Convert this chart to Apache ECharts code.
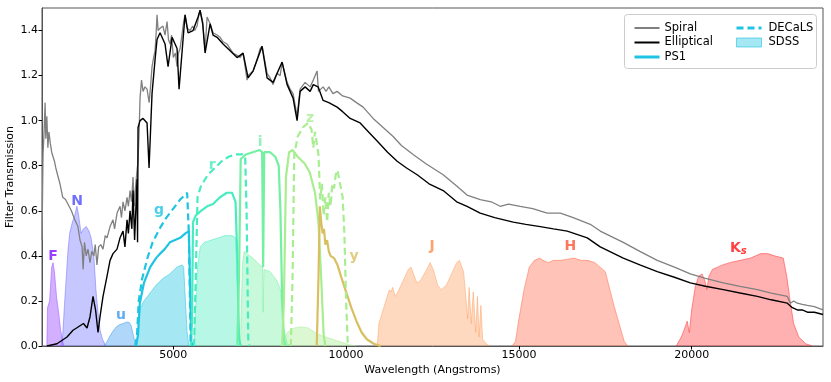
<!DOCTYPE html>
<html>
<head>
<meta charset="utf-8">
<script src="https://cdn.jsdelivr.net/npm/echarts@6/dist/echarts.min.js"></script>
<style>
  html, body { margin: 0; background: #fff; }
  #main { width: 831px; height: 382px; }
</style>
</head>
<body>
<div id="main"></div>
<script>
// galaxy template spectra, [wavelength, flux]
const spiralData = [
  [1200,0.47],[1230,0.85],[1260,0.95],[1290,1.08],[1310,0.92],[1340,1.02],[1370,0.88],[1400,0.95],[1440,0.90],
  [1480,0.86],[1520,0.84],[1560,0.82],[1600,0.79],[1650,0.76],[1720,0.72],[1800,0.66],[1880,0.65],[1950,0.63],
  [2050,0.60],[2150,0.56],[2240,0.53],[2300,0.47],[2360,0.44],[2390,0.34],[2430,0.46],[2480,0.40],[2530,0.43],
  [2590,0.37],[2640,0.42],[2700,0.40],[2740,0.45],[2790,0.36],[2840,0.44],[2900,0.45],[2966,0.43],[3030,0.49],
  [3082,0.48],[3169,0.53],[3255,0.56],[3300,0.52],[3371,0.59],[3458,0.62],[3500,0.57],[3545,0.64],[3600,0.60],
  [3661,0.66],[3700,0.62],[3748,0.69],[3790,0.64],[3834,0.75],[3870,0.62],[3910,0.71],[3950,0.78],[3979,0.82],
  [4010,0.95],[4037,1.10],[4080,1.18],[4124,1.13],[4180,1.15],[4240,1.14],[4300,1.08],[4340,1.15],[4384,1.24],
  [4430,1.28],[4471,1.31],[4500,1.38],[4529,1.47],[4560,1.40],[4616,1.41],[4700,1.42],[4760,1.38],[4819,1.44],
  [4860,1.36],[4906,1.34],[4950,1.38],[5000,1.28],[5060,1.30],[5108,1.24],[5150,1.30],[5195,1.32],[5250,1.38],
  [5300,1.44],[5340,1.47],[5400,1.41],[5485,1.40],[5560,1.42],[5620,1.40],[5687,1.42],[5740,1.47],[5774,1.49],
  [5850,1.44],[5919,1.31],[5977,1.46],[6064,1.43],[6150,1.39],[6266,1.38],[6353,1.37],[6440,1.35],[6556,1.34],
  [6643,1.32],[6729,1.30],[6845,1.29],[6932,1.28],[7019,1.30],[7135,1.18],[7164,1.20],[7308,1.22],[7420,1.27],
  [7511,1.32],[7569,1.33],[7714,1.21],[7800,1.19],[7887,1.16],[8000,1.21],[8092,1.20],[8148,1.26],[8293,1.17],
  [8380,1.14],[8466,1.12],[8582,1.02],[8669,1.14],[8814,1.17],[8959,1.15],[9050,1.18],[9161,1.22],[9200,1.13],
  [9335,1.15],[9420,1.13],[9500,1.15],[9620,1.12],[9740,1.13],[9900,1.11],[10117,1.10],[10300,1.08],[10493,1.06],
  [10782,1.01],[11000,0.98],[11361,0.93],[11600,0.89],[11940,0.85],[12300,0.81],[12809,0.76],[13200,0.71],
  [13500,0.67],[13880,0.65],[14200,0.64],[14459,0.62],[14700,0.63],[15038,0.62],[15400,0.61],[15820,0.59],
  [16200,0.59],[16572,0.57],[17065,0.54],[17354,0.51],[18020,0.46],[18500,0.42],[19004,0.38],[19500,0.35],
  [19960,0.32],[20400,0.30],[20915,0.28],[21400,0.265],[21899,0.25],[22300,0.235],[22768,0.22],[22855,0.19],
  [22950,0.20],[23057,0.19],[23200,0.185],[23349,0.18],[23550,0.175],[23800,0.16]
];
const ellipticalData = [
  [1345,0.0],[1634,0.01],[1924,0.04],[2097,0.07],[2200,0.08],[2300,0.09],[2400,0.10],[2503,0.08],[2590,0.13],
  [2676,0.22],[2750,0.16],[2821,0.06],[2879,0.13],[2966,0.22],[3082,0.31],[3169,0.38],[3255,0.41],[3371,0.43],
  [3458,0.48],[3545,0.51],[3600,0.44],[3661,0.56],[3700,0.50],[3748,0.60],[3800,0.52],[3834,0.69],[3880,0.47],
  [3950,0.74],[3965,0.46],[3979,0.97],[4037,1.00],[4124,1.01],[4240,0.99],[4298,0.79],[4384,1.12],[4471,1.27],
  [4529,1.36],[4616,1.39],[4761,1.34],[4848,1.24],[4964,1.37],[5108,1.32],[5166,1.14],[5282,1.36],[5340,1.47],
  [5427,1.39],[5571,1.40],[5716,1.46],[5774,1.49],[5850,1.43],[5919,1.30],[6064,1.43],[6150,1.38],[6266,1.37],
  [6440,1.34],[6643,1.31],[6845,1.28],[7019,1.30],[7164,1.19],[7308,1.22],[7569,1.33],[7714,1.19],[7887,1.17],
  [8148,1.26],[8293,1.16],[8466,1.10],[8582,1.00],[8669,1.13],[8814,1.15],[8959,1.13],[9050,1.16],[9190,1.15],
  [9335,1.09],[9500,1.08],[9740,1.06],[9900,1.04],[10117,1.01],[10406,0.99],[10650,0.95],[10898,0.91],
  [11200,0.86],[11477,0.82],[11750,0.79],[12056,0.76],[12400,0.72],[12809,0.69],[13200,0.64],[13500,0.62],
  [13880,0.59],[14300,0.57],[14835,0.55],[15200,0.54],[15617,0.53],[16000,0.52],[16399,0.51],[16978,0.48],
  [17354,0.44],[18020,0.39],[18500,0.36],[19004,0.33],[19500,0.305],[19960,0.28],[20400,0.265],[20915,0.25],
  [21400,0.235],[21899,0.22],[22300,0.205],[22768,0.19],[22913,0.17],[23057,0.16],[23200,0.16],[23349,0.15],
  [23550,0.15],[23800,0.14]
];

// GALEX
const galexF = [[1340,0],[1360,0.17],[1420,0.20],[1480,0.35],[1520,0.37],[1560,0.33],[1620,0.22],[1680,0.15],[1740,0.07],[1800,0.02],[1830,0]];
const galexN = [[1750,0],[1800,0.05],[1850,0.18],[1900,0.30],[1950,0.42],[2000,0.50],[2080,0.55],[2150,0.58],[2210,0.62],[2260,0.58],
  [2330,0.50],[2400,0.52],[2480,0.53],[2560,0.51],[2620,0.48],[2700,0.40],[2760,0.25],[2820,0.15],[2880,0.07],[2950,0.03],[3050,0]];

// SDSS
const sdssU = [[2970,0],[3050,0.01],[3150,0.04],[3250,0.065],[3350,0.085],[3450,0.095],[3550,0.10],[3650,0.106],[3720,0.105],[3780,0.09],[3840,0.05],[3900,0.01],[3950,0]];
const sdssG = [[3900,0],[3950,0.01],[4000,0.12],[4050,0.17],[4150,0.20],[4300,0.23],[4500,0.27],[4700,0.30],[4900,0.32],[5100,0.35],[5250,0.36],[5300,0.35],[5350,0.2],[5400,0.06],[5450,0]];
const sdssR = [[5500,0],[5600,0.02],[5700,0.35],[5780,0.44],[5900,0.46],[6100,0.47],[6300,0.48],[6500,0.49],[6700,0.49],[6800,0.48],[6850,0.3],[6900,0.08],[6950,0]];
const sdssI = [[6900,0],[6950,0.05],[7000,0.36],[7050,0.42],[7100,0.42],[7300,0.39],[7500,0.36],[7580,0.35],[7600,0.15],[7620,0.34],[7800,0.33],[8000,0.29],[8100,0.25],[8200,0.08],[8300,0.01],[8400,0]];
const sdssZ = [[8100,0],[8200,0.02],[8300,0.06],[8500,0.08],[8700,0.085],[8900,0.08],[9100,0.06],[9300,0.045],[9500,0.035],[9700,0.025],[9900,0.015],[10100,0.005],[10300,0]];

// Pan-STARRS1
const ps1G = [[3920,0],[3980,0.05],[4030,0.19],[4150,0.28],[4330,0.35],[4500,0.39],[4620,0.41],[4750,0.43],[4900,0.46],[5050,0.47],[5200,0.48],[5350,0.50],[5450,0.51],[5480,0.3],[5520,0.02],[5560,0]];
const ps1R = [[5500,0],[5540,0.1],[5570,0.55],[5650,0.58],[5800,0.60],[5980,0.62],[6150,0.63],[6350,0.66],[6550,0.68],[6700,0.68],[6800,0.64],[6850,0.4],[6900,0.03],[6950,0]];
const ps1I = [[6850,0],[6900,0.3],[6950,0.83],[7100,0.85],[7300,0.86],[7500,0.87],[7570,0.86],[7600,0.35],[7630,0.86],[7800,0.86],[7950,0.84],[8050,0.80],[8100,0.6],[8150,0.2],[8200,0.03],[8250,0]];
const ps1Z = [[8150,0],[8200,0.2],[8260,0.75],[8350,0.86],[8450,0.87],[8600,0.84],[8800,0.81],[8950,0.77],[9100,0.68],[9200,0.55],[9280,0.3],[9350,0.05],[9400,0]];
const ps1Y = [[9150,0],[9200,0.3],[9240,0.62],[9280,0.55],[9320,0.50],[9360,0.52],[9400,0.45],[9450,0.47],[9500,0.42],[9550,0.40],[9650,0.39],[9750,0.36],[9850,0.31],[10000,0.24],[10150,0.17],[10300,0.11],[10450,0.06],[10600,0.03],[10800,0.01],[11000,0]];

// DECaLS
const decalsG = [[3900,0],[3950,0.05],[4000,0.2],[4100,0.30],[4250,0.39],[4400,0.46],[4600,0.52],[4800,0.57],[5000,0.61],[5200,0.65],[5400,0.68],[5450,0.5],[5500,0.02],[5530,0]];
const decalsR = [[5600,0],[5650,0.3],[5700,0.66],[5800,0.71],[6000,0.76],[6200,0.79],[6400,0.82],[6600,0.84],[6800,0.85],[7000,0.85],[7080,0.84],[7120,0.6],[7170,0.02],[7200,0]];
const decalsZ = [[8400,0],[8450,0.3],[8500,0.85],[8600,0.93],[8750,0.97],[8900,0.99],[9000,0.96],[9050,0.88],[9100,0.95],[9150,0.90],[9200,0.85],[9250,0.65],[9300,0.72],
  [9350,0.58],[9400,0.66],[9450,0.55],[9500,0.68],[9550,0.62],[9600,0.72],[9650,0.70],[9700,0.76],[9750,0.78],[9800,0.74],[9850,0.70],[9900,0.66],[9950,0.50],[10000,0.2],[10050,0]];

// 2MASS
const tmassJ = [[10900,0],[10950,0.10],[11050,0.15],[11150,0.20],[11250,0.25],[11300,0.24],[11350,0.26],[11420,0.22],[11500,0.24],[11650,0.29],[11800,0.34],[11880,0.35],[11950,0.32],
  [12050,0.28],[12150,0.29],[12300,0.33],[12430,0.37],[12520,0.34],[12650,0.27],[12750,0.25],[12900,0.27],[13050,0.32],[13200,0.37],[13280,0.38],[13400,0.33],[13450,0.24],
  [13520,0.12],[13560,0.26],[13620,0.10],[13680,0.24],[13750,0.06],[13800,0.22],[13850,0.04],[13900,0.18],[13950,0.03],[14050,0.01],[14150,0]];
const tmassH = [[14800,0],[14900,0.02],[15000,0.12],[15150,0.25],[15300,0.35],[15450,0.38],[15600,0.39],[15700,0.38],[15850,0.37],[16000,0.38],[16200,0.38],[16400,0.385],
  [16600,0.39],[16800,0.38],[17000,0.38],[17200,0.37],[17350,0.35],[17500,0.33],[17600,0.27],[17750,0.18],[17900,0.10],[18050,0.02],[18150,0]];
const tmassKs = [[19550,0],[19700,0.04],[19800,0.08],[19870,0.11],[19930,0.06],[20000,0.16],[20100,0.26],[20200,0.31],[20300,0.32],[20380,0.29],[20440,0.25],[20500,0.31],
  [20600,0.34],[20750,0.35],[20900,0.36],[21100,0.37],[21400,0.38],[21700,0.39],[21850,0.40],[22000,0.41],[22200,0.41],[22400,0.40],[22650,0.39],[22750,0.31],[22850,0.20],
  [22950,0.10],[23100,0.04],[23300,0.01],[23500,0]];

// band name labels [wavelength, height, text, colour]
const bandLabels = [
  [1518, 0.40, 'F', '#8010ff'],
  [2213, 0.64, 'N', '#4c4cff'],
  [3487, 0.135, 'u', '#3a98f0'],
  [4587, 0.60, 'g', '#1ec4e2'],
  [6122, 0.80, 'r', '#48ecc0'],
  [7511, 0.905, 'i', '#74f0a2'],
  [8959, 1.01, 'z', '#a8ee90'],
  [10232, 0.40, 'y', '#d8c060'],
  [12490, 0.44, 'J', '#ff8c48'],
  [16486, 0.44, 'H', '#ff5533'],
  [21349, 0.435, 'Ks', '#ff1010']
];

const xTicks = [5000, 10000, 15000, 20000];
const yTicks = [0, 0.2, 0.4, 0.6, 0.8, 1.0, 1.2, 1.4];

const FONT = 'DejaVu Sans';

function fillBand(name, data, color, alpha) {
  return {
    name: name, type: 'line', data: data, symbol: 'none', silent: true, z: 1,
    color: color,
    lineStyle: { color: color, width: 1, opacity: 0.5 },
    areaStyle: { color: color, opacity: alpha },
  };
}
function lineBand(name, data, color, dashed) {
  return {
    name: name, type: 'line', data: data, symbol: 'none', silent: true, z: 3,
    color: color,
    lineStyle: { color: color, width: 2.2, type: dashed ? [7, 4] : 'solid' },
  };
}

const cG = '#1ec4e2', cR = '#48ecc0', cI = '#74f0a2', cZ = '#a8ee90';

const series = [
  fillBand('GALEX F', galexF, '#9b4dff', 0.45),
  fillBand('GALEX N', galexN, '#6b6bff', 0.38),
  fillBand('SDSS u', sdssU, '#3a98f0', 0.4),
  fillBand('SDSS', sdssG, cG, 0.4),
  fillBand('SDSS r', sdssR, cR, 0.4),
  fillBand('SDSS i', sdssI, cI, 0.4),
  fillBand('SDSS z', sdssZ, cZ, 0.4),
  fillBand('2MASS J', tmassJ, '#ffa060', 0.4),
  fillBand('2MASS H', tmassH, '#ff6a4a', 0.4),
  fillBand('2MASS Ks', tmassKs, '#ff3030', 0.38),
  lineBand('PS1', ps1G, cG, false),
  lineBand('PS1 r', ps1R, cR, false),
  lineBand('PS1 i', ps1I, cI, false),
  lineBand('PS1 z', ps1Z, cZ, false),
  lineBand('PS1 y', ps1Y, '#d8c060', false),
  lineBand('DECaLS', decalsG, cG, true),
  lineBand('DECaLS r', decalsR, cR, true),
  lineBand('DECaLS z', decalsZ, cZ, true),
  {
    name: 'Spiral', type: 'line', data: spiralData, symbol: 'none', z: 5, silent: true,
    color: '#808080', lineStyle: { color: '#808080', width: 1.3 }
  },
  {
    name: 'Elliptical', type: 'line', data: ellipticalData, symbol: 'none', z: 6, silent: true,
    color: '#000', lineStyle: { color: '#000', width: 1.4 }
  },
  {
    name: 'labels', type: 'scatter', symbolSize: 1, z: 7, silent: true,
    itemStyle: { color: 'rgba(0,0,0,0)' },
    data: bandLabels.map(b => ({
      value: [b[0], b[1]],
      label: {
        show: true, position: 'inside', color: b[3],
        formatter: b[2] === 'Ks' ? '{k|K}{s|s}' : b[2],
        rich: {
          k: { color: b[3], fontSize: 14, fontWeight: 'bold', fontFamily: FONT },
          s: { color: b[3], fontSize: 10, fontStyle: 'italic', fontFamily: FONT, padding: [7, 0, 0, 0] }
        }
      }
    })),
    label: { show: true, fontSize: 14, fontWeight: 'bold', fontFamily: FONT }
  }
];

const chart = echarts.init(document.getElementById('main'));
chart.setOption({
  animation: false,
  backgroundColor: '#fff',
  grid: { left: 42, right: 8, top: 8, bottom: 36, show: true, borderColor: '#555', borderWidth: 1,
    outerBoundsMode: 'none', containLabel: false },
  xAxis: {
    type: 'value', min: 1200, max: 23800,
    name: 'Wavelength (Angstroms)', nameLocation: 'middle', nameGap: 19, nameMoveOverlap: false,
    nameTextStyle: { fontFamily: FONT, fontSize: 11, color: '#000' },
    axisLine: { show: true, lineStyle: { color: '#555' } },
    axisTick: { show: true, customValues: xTicks, length: 3.5, lineStyle: { color: '#000' } },
    axisLabel: { customValues: xTicks, fontFamily: FONT, fontSize: 11, color: '#000', margin: 4,
      formatter: v => String(v) },
    splitLine: { show: false }
  },
  yAxis: {
    type: 'value', min: 0, max: 1.5,
    name: 'Filter Transmission', nameLocation: 'middle', nameGap: 26, nameMoveOverlap: false,
    nameTextStyle: { fontFamily: FONT, fontSize: 11, color: '#000' },
    axisLine: { show: true, lineStyle: { color: '#555' } },
    axisTick: { show: true, customValues: yTicks, length: 3.5, lineStyle: { color: '#000' } },
    axisLabel: { customValues: yTicks, fontFamily: FONT, fontSize: 11, color: '#000', margin: 4,
      formatter: v => v.toFixed(1) },
    splitLine: { show: false }
  },
  graphic: [{
    type: 'rect', left: 624, top: 14, z: 10,
    shape: { width: 192, height: 54, r: 3 },
    style: { fill: 'rgba(255,255,255,0.85)', stroke: '#cccccc', lineWidth: 1 }
  }],
  legend: [
    {
      left: 628, top: 17, orient: 'vertical', itemGap: 2.5, itemWidth: 25, itemHeight: 10, z: 20,
      selectedMode: false,
      itemStyle: { opacity: 0 },
      textStyle: { fontFamily: FONT, fontSize: 11.5, color: '#000', padding: [0, 0, 0, 0] },
      data: ['Spiral', 'Elliptical', { name: 'PS1', lineStyle: { width: 3 } }]
    },
    {
      left: 730, top: 17, orient: 'vertical', itemGap: 2.5, itemWidth: 25, itemHeight: 9, z: 20,
      selectedMode: false,
      itemStyle: { opacity: 0 },
      textStyle: { fontFamily: FONT, fontSize: 11.5, color: '#000', padding: [0, 0, 0, 2] },
      data: [{ name: 'DECaLS', lineStyle: { width: 3 } }, { name: 'SDSS', icon: 'rect',
        itemStyle: { opacity: 1, color: 'rgba(30,196,226,0.4)', borderColor: 'rgba(30,196,226,0.6)', borderWidth: 1 } }]
    }
  ],
  series: series
});
</script>
</body>
</html>
